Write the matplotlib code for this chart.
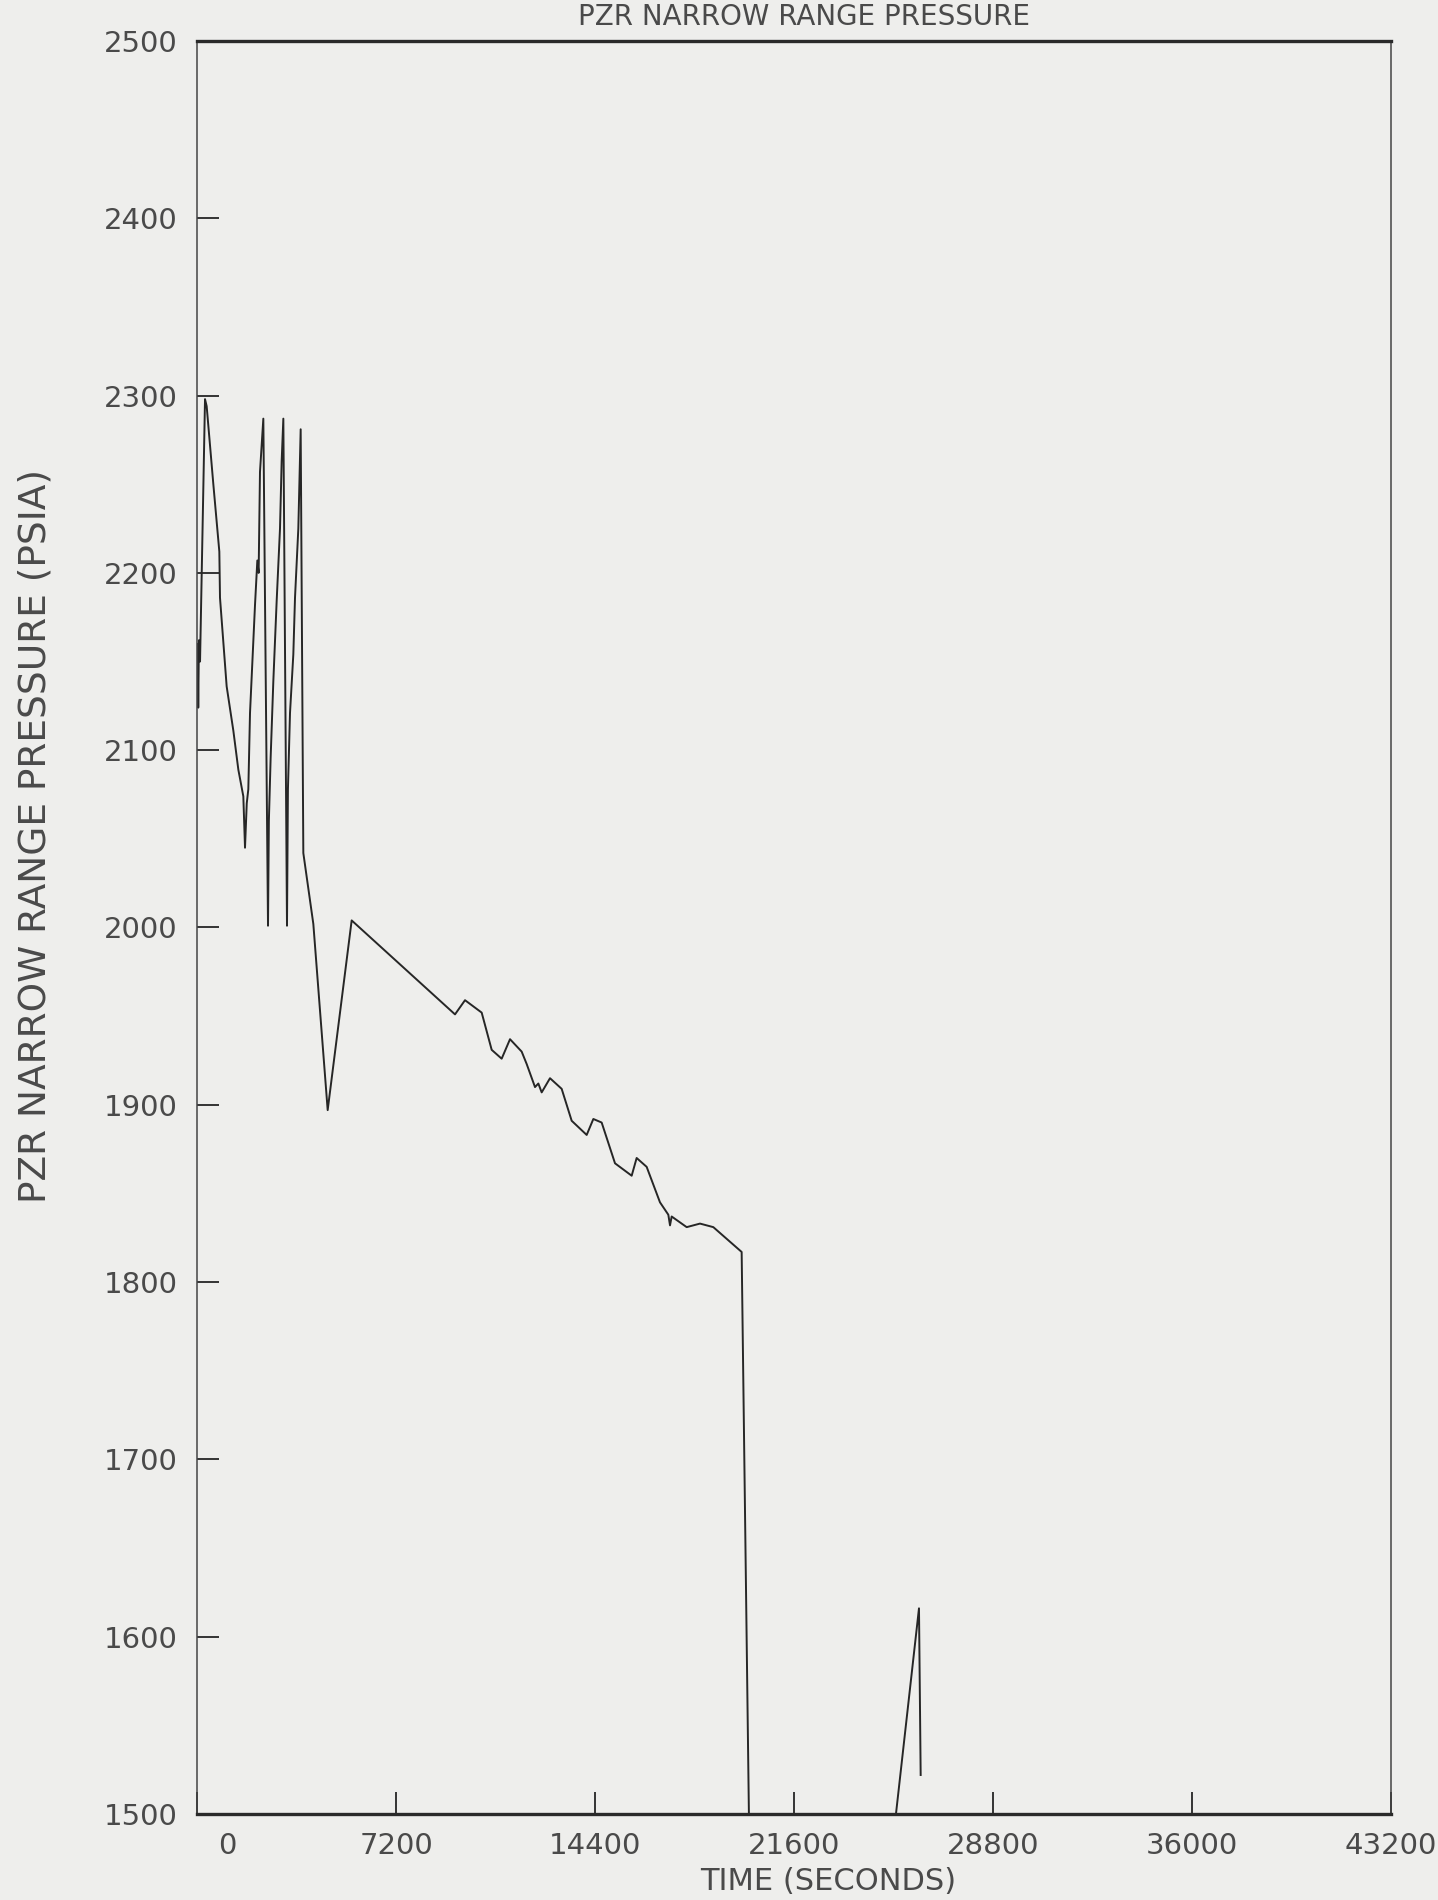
import matplotlib
matplotlib.use("Agg")
import matplotlib.pyplot as plt
from matplotlib.transforms import ScaledTranslation

# pressurizer narrow range pressure
time_s = [0, 25, 45, 70, 110, 290, 350, 591, 808, 832, 1073, 1315, 1496,
          1676, 1737, 1800, 1857, 1918, 2099, 2183, 2230, 2279, 2400, 2569,
          2600, 2665, 2762, 2882, 3003, 3063, 3124, 3256, 3290, 3365, 3485,
          3546, 3666, 3751, 3847, 4028, 4209, 4728, 5596, 9335, 9697, 10300,
          10662, 11023, 11325, 11747, 11928, 12229, 12350, 12471, 12772,
          13194, 13556, 14099, 14340, 14641, 15124, 15727, 15907, 16269,
          16751, 17053, 17114, 17174, 17717, 18199, 18681, 19706, 20010,
          24930, 26122, 26183]
pressure = [2125, 2160, 2124, 2162, 2150, 2298, 2294, 2250, 2212, 2186, 2136,
            2111, 2089, 2074, 2045, 2070, 2078, 2121, 2182, 2207, 2200, 2257,
            2287, 2001, 2060, 2096, 2139, 2184, 2225, 2263, 2287, 2001, 2078,
            2121, 2154, 2186, 2225, 2281, 2042, 2022, 2002, 1897, 2004, 1951,
            1959, 1952, 1931, 1926, 1937, 1930, 1923, 1910, 1912, 1907, 1915,
            1909, 1891, 1883, 1892, 1890, 1867, 1860, 1870, 1865, 1845, 1838,
            1832, 1837, 1831, 1833, 1831, 1817, 1450, 1450, 1616, 1522]

x_ticks = [0, 7200, 14400, 21600, 28800, 36000, 43200]
y_ticks = list(range(1500, 2501, 100))

bg = "#eeeeec"
ink = "#4a4a4a"

fig = plt.figure(figsize=(14.38, 19), dpi=100, facecolor=bg)
ax = fig.add_axes([197 / 1438, 1 - 1814 / 1900, 1194 / 1438, 1773 / 1900])
ax.set_facecolor(bg)

ax.plot(time_s, pressure, color="#262626", lw=1.4)

ax.set_xlim(0, 43200)
ax.set_ylim(1500, 2500)
ax.set_xticks(x_ticks)
ax.set_yticks(y_ticks)
ax.tick_params(direction="in", length=16, width=1.4, color="#333333",
               labelsize=21, labelcolor=ink)
ax.tick_params(axis="y", pad=14)
ax.tick_params(axis="x", pad=13)

for side in ["top", "bottom"]:
    ax.spines[side].set_linewidth(2.4)
    ax.spines[side].set_color("#2a2a2a")
for side in ["left", "right"]:
    ax.spines[side].set_linewidth(1.1)
    ax.spines[side].set_color("#444444")

# the zero label sits a little right of its tick on the original
lbl0 = ax.get_xticklabels()[0]
lbl0.set_transform(lbl0.get_transform() + ScaledTranslation(0.30, 0, fig.dpi_scale_trans))

fig.text(804 / 1438, 1 - 3 / 1900, "PZR NARROW RANGE PRESSURE",
         ha="center", va="top", fontsize=20, color=ink)
fig.text(828 / 1438, 1 - 1882 / 1900, "TIME (SECONDS)",
         ha="center", va="center", fontsize=22, color=ink)
fig.text(36 / 1438, 1 - 836 / 1900, "PZR NARROW RANGE PRESSURE (PSIA)",
         ha="center", va="center", rotation=90, fontsize=27, color=ink)

fig.savefig("out.png", dpi=100, facecolor=bg)
